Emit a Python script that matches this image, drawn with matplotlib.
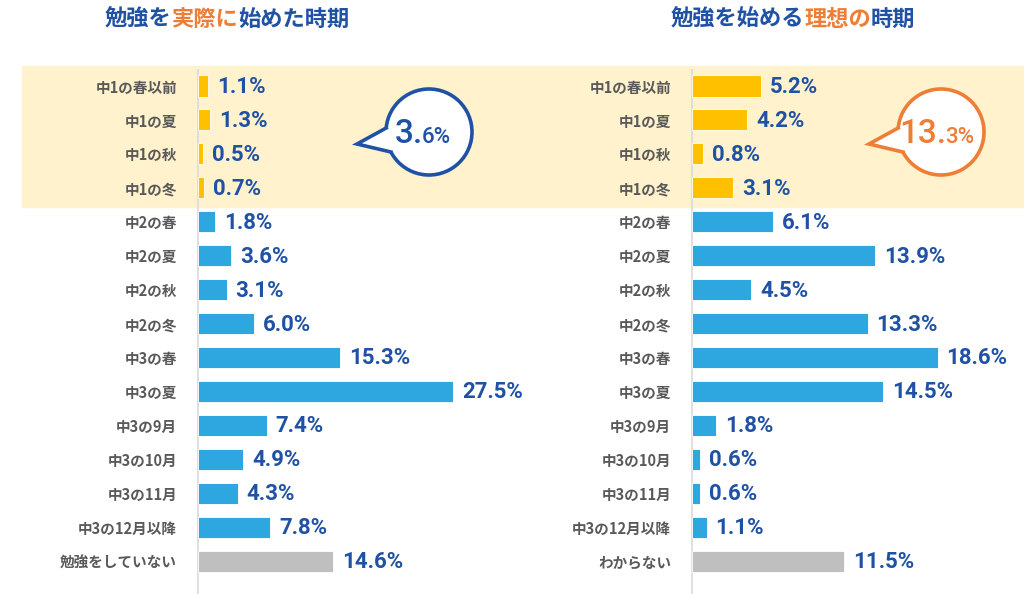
import matplotlib.pyplot as plt
from matplotlib.patches import Circle, Polygon, Rectangle
import numpy as np

plt.rcParams['font.family'] = ['Noto Sans CJK JP', 'DejaVu Sans']

# data
left_labels = ['中1の春以前', '中1の夏', '中1の秋', '中1の冬', '中2の春', '中2の夏', '中2の秋',
               '中2の冬', '中3の春', '中3の夏', '中3の9月', '中3の10月', '中3の11月',
               '中3の12月以降', '勉強をしていない']
left_values = [1.1, 1.3, 0.5, 0.7, 1.8, 3.6, 3.1, 6.0, 15.3, 27.5, 7.4, 4.9, 4.3, 7.8, 14.6]

right_labels = ['中1の春以前', '中1の夏', '中1の秋', '中1の冬', '中2の春', '中2の夏', '中2の秋',
                '中2の冬', '中3の春', '中3の夏', '中3の9月', '中3の10月', '中3の11月',
                '中3の12月以降', 'わからない']
right_values = [5.2, 4.2, 0.8, 3.1, 6.1, 13.9, 4.5, 13.3, 18.6, 14.5, 1.8, 0.6, 0.6, 1.1, 11.5]

left_total = ('3.', '6%')
right_total = ('13.', '3%')

YELLOW = '#FFC000'
BLUE = '#2EA7E0'
GRAY = '#BFBFBF'
NAVY = '#1F51A5'
ORANGE = '#EE7D36'
LABEL = '#595959'
BAND = '#FFF2CC'

W, H = 1024, 594
fig = plt.figure(figsize=(W / 100, H / 100), dpi=100)

# background axes in pixel coordinates
bg = fig.add_axes([0, 0, 1, 1], zorder=0)
bg.set_xlim(0, W)
bg.set_ylim(H, 0)
bg.axis('off')
bg.add_patch(Rectangle((22, 66), W - 22, 141, color=BAND, zorder=0))

row_px = 33.93
top_px = 86 - row_px / 2
ax_h = 15 * row_px


def colors_for(labels):
    cols = []
    for i, lab in enumerate(labels):
        if i < 4:
            cols.append(YELLOW)
        elif i == len(labels) - 1:
            cols.append(GRAY)
        else:
            cols.append(BLUE)
    return cols


def panel(x0_px, scale, labels, values):
    width_px = 310
    ax = fig.add_axes([x0_px / W, (H - top_px - ax_h) / H, width_px / W, ax_h / H], zorder=1)
    ax.patch.set_alpha(0)
    y = np.arange(len(values))
    ax.barh(y, values, height=0.62, color=colors_for(labels), edgecolor='white', linewidth=0.6)
    ax.set_xlim(0, width_px / scale)
    ax.set_ylim(len(values) - 0.5, -0.5)
    for s in ax.spines.values():
        s.set_visible(False)
    ax.set_xticks([])
    ax.set_yticks(y)
    ax.set_yticklabels(labels, fontsize=10.5, fontweight='bold', color=LABEL)
    ax.tick_params(axis='y', length=0, pad=15)
    for yi, v in zip(y, values):
        ax.text(v + 9 / scale, yi + 0.03, f'{v:.1f}%', va='center', ha='left',
                fontsize=16, fontweight='bold', color=NAVY,
                family=['Roboto', 'Noto Sans CJK JP'])
    bg.plot([x0_px, x0_px], [70, H], color='#D9D9D9', lw=1.2, zorder=2)
    return ax


panel(198, 9.27, left_labels, left_values)
panel(692, 13.2, right_labels, right_values)


def title(x_center, pieces):
    renderer = fig.canvas.get_renderer()
    texts = []
    for s, c in pieces:
        t = bg.text(0, 19, s, color=c, fontsize=16, fontweight='bold', va='center', ha='left')
        texts.append(t)
    widths = [t.get_window_extent(renderer).width for t in texts]
    x = x_center - sum(widths) / 2
    for t, w in zip(texts, widths):
        t.set_x(x)
        x += w


title(227, [('勉強を', NAVY), ('実際に', ORANGE), ('始めた時期', NAVY)])
title(793, [('勉強を始める', NAVY), ('理想の', ORANGE), ('時期', NAVY)])


def callout(cx, cy, r, tip, color, parts, split_x):
    bg.add_patch(Circle((cx, cy), r, facecolor='white', edgecolor=color, lw=2.6, zorder=3))
    b1 = (cx - np.sqrt(r ** 2 - 4 ** 2), cy - 4)
    b2 = (cx - np.sqrt(r ** 2 - 20 ** 2), cy + 20)
    inner1 = (b1[0] + 4, b1[1])
    inner2 = (b2[0] + 4, b2[1])
    bg.add_patch(Polygon([tip, b1, inner1, inner2, b2], closed=True, facecolor='white',
                         edgecolor='none', zorder=4))
    bg.plot([b1[0], tip[0], b2[0]], [b1[1], tip[1], b2[1]], color=color, lw=2.6,
            solid_joinstyle='miter', zorder=5)
    bg.text(split_x, cy + 11, parts[0], fontsize=24, color=color, ha='right', va='baseline',
            family=['Roboto', 'DejaVu Sans'], fontweight='medium', zorder=6)
    bg.text(split_x - 1, cy + 11, parts[1], fontsize=16, color=color, ha='left', va='baseline',
            family=['Roboto', 'DejaVu Sans'], fontweight='medium', zorder=6)


callout(429, 132, 43, (357, 144), '#1F51A5', left_total, 423)
callout(941, 132, 43, (869, 144), ORANGE, right_total, 946)

fig.savefig('out.png', dpi=100)
